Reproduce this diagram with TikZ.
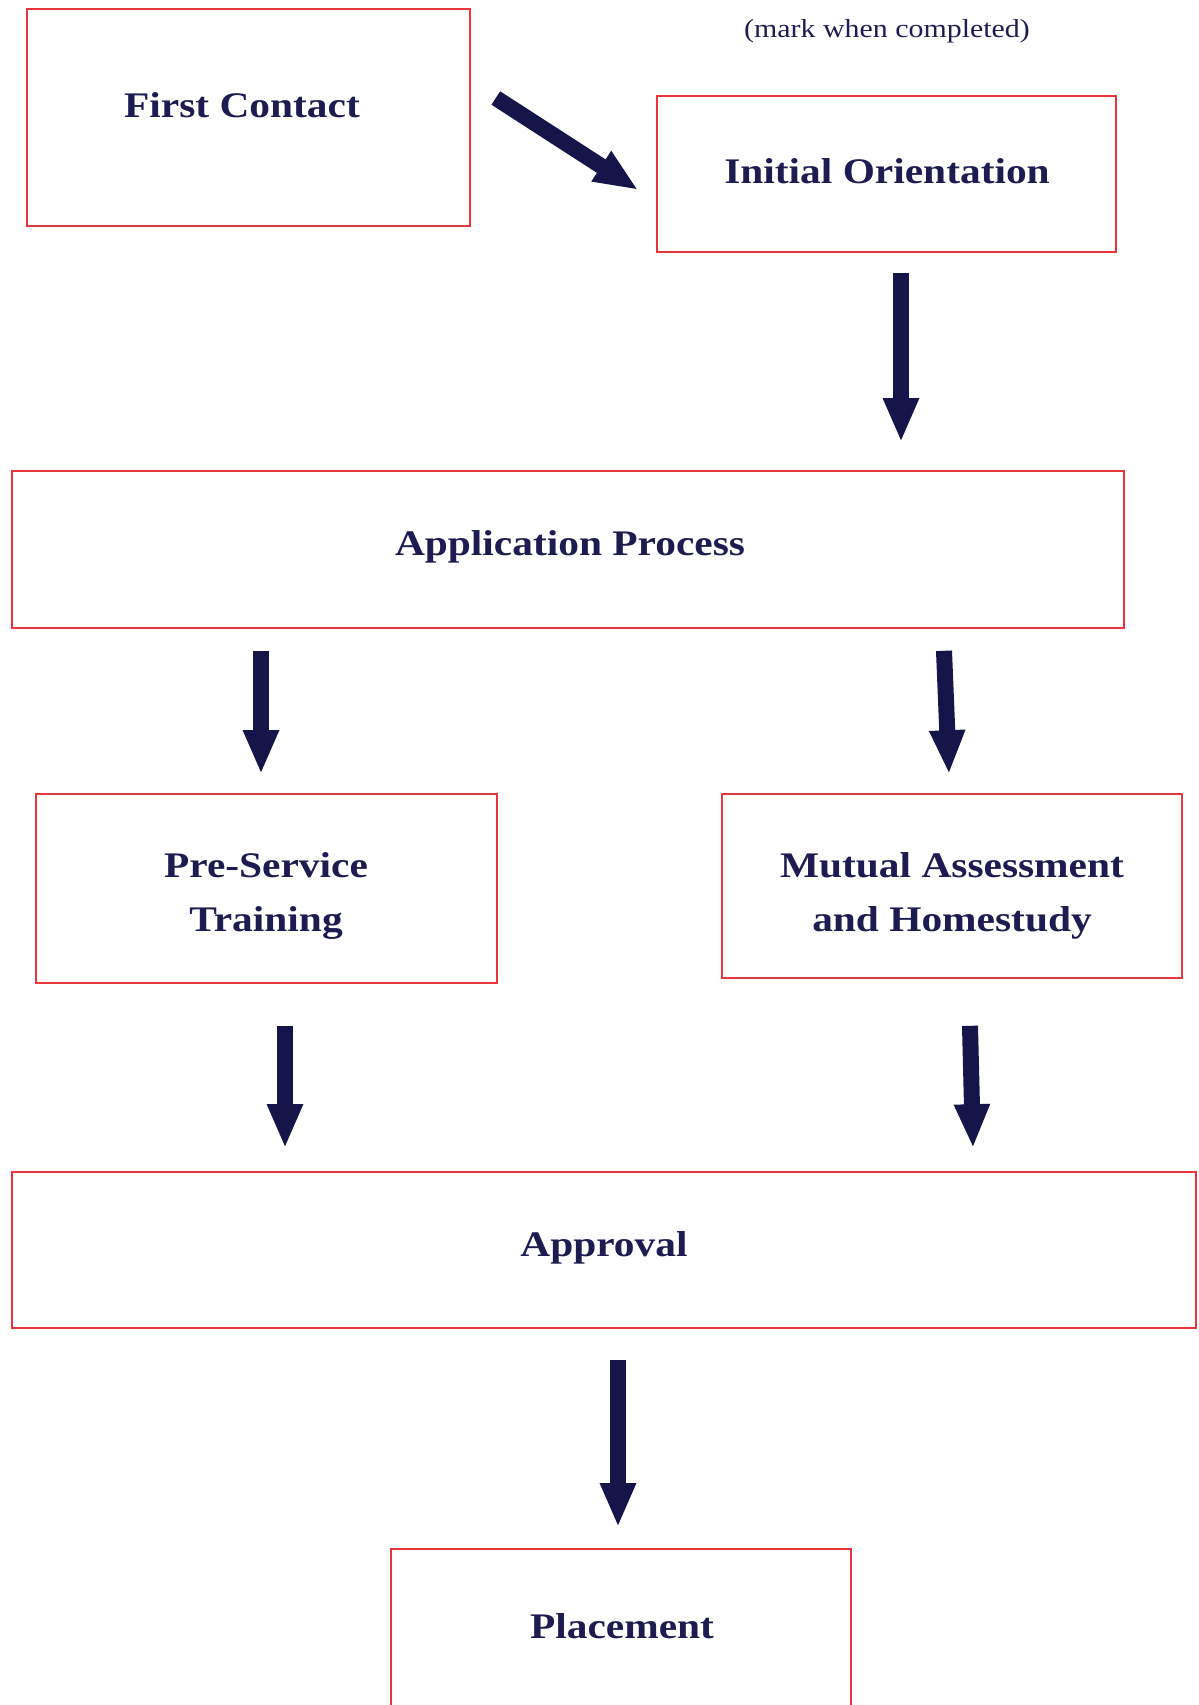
\documentclass[tikz,border=0pt]{standalone}
\usepackage{fontspec}
\setmainfont{Liberation Serif}[FakeStretch=1.15]
\usetikzlibrary{arrows.meta,calc}
\definecolor{navy}{HTML}{1C1C50}
\definecolor{arrowblue}{HTML}{15154A}
\definecolor{boxred}{HTML}{E8343C}
\tikzset{
  stepbox/.style={draw=boxred, line width=1.6pt, rectangle, inner sep=0pt},
  boxtext/.style={text=navy, font=\fontsize{36}{54}\selectfont\bfseries, align=center, inner sep=0pt},
  bigarrow/.style={draw=arrowblue, line width=16pt, -{Triangle[width=33pt,length=44pt]}},
}
\begin{document}
\begin{tikzpicture}[x=1pt,y=-1pt]
\useasboundingbox (0,0) rectangle (1199,1705);
\clip (0,0) rectangle (1199,1705);
% boxes
\node[stepbox, minimum width=443pt, minimum height=217pt] (fc) at (248.5,117.5) {};
\node[stepbox, minimum width=459pt, minimum height=156pt] (io) at (886.5,174) {};
\node[stepbox, minimum width=1112pt, minimum height=157pt] (app) at (568,549.5) {};
\node[stepbox, minimum width=461pt, minimum height=189pt] (pst) at (266.5,888.5) {};
\node[stepbox, minimum width=460pt, minimum height=184pt] (mut) at (952,886) {};
\node[stepbox, minimum width=1184pt, minimum height=156pt] (apr) at (604,1250) {};
\node[stepbox, minimum width=460pt, minimum height=163pt] (pl) at (621,1630.5) {};
% texts
\node[boxtext] (fct) at (242,105) {First Contact};
\node[boxtext] (iot) at (887,171) {Initial Orientation};
\node[boxtext] (appt) at (570,547) {Application Process};
\node[boxtext] (pstt) at (266,896) {Pre-Service\\Training};
\node[boxtext] (mutt) at (952,896) {Mutual Assessment\\and Homestudy};
\node[boxtext] (aprt) at (604,1248) {Approval};
\node[boxtext] (plt) at (622,1626) {Placement};
\node[text=navy, font=\fontsize{26}{30}\selectfont, inner sep=0pt] (note) at (887,31) {(mark when completed)};
% arrows
\draw[bigarrow] ($(fc.east)+(25,-19.5)$) -- ($(io.west)+(-18,16)$);
\draw[bigarrow] ($(io.south)+(14.5,20)$) -- ($(app.north)+(333,-28)$);
\draw[bigarrow] ($(app.south)+(-307,22)$) -- ($(pst.north)+(-5.5,-19)$);
\draw[bigarrow] ($(app.south)+(376,22)$) -- ($(mut.north)+(-3,-19)$);
\draw[bigarrow] ($(pst.south)+(18.5,42)$) -- ($(apr.north)+(-319,-23)$);
\draw[bigarrow] ($(mut.south)+(18,47)$) -- ($(apr.north)+(369,-23)$);
\draw[bigarrow] ($(apr.south)+(14,31)$) -- ($(pl.north)+(-3,-21)$);
\end{tikzpicture}
\end{document}
